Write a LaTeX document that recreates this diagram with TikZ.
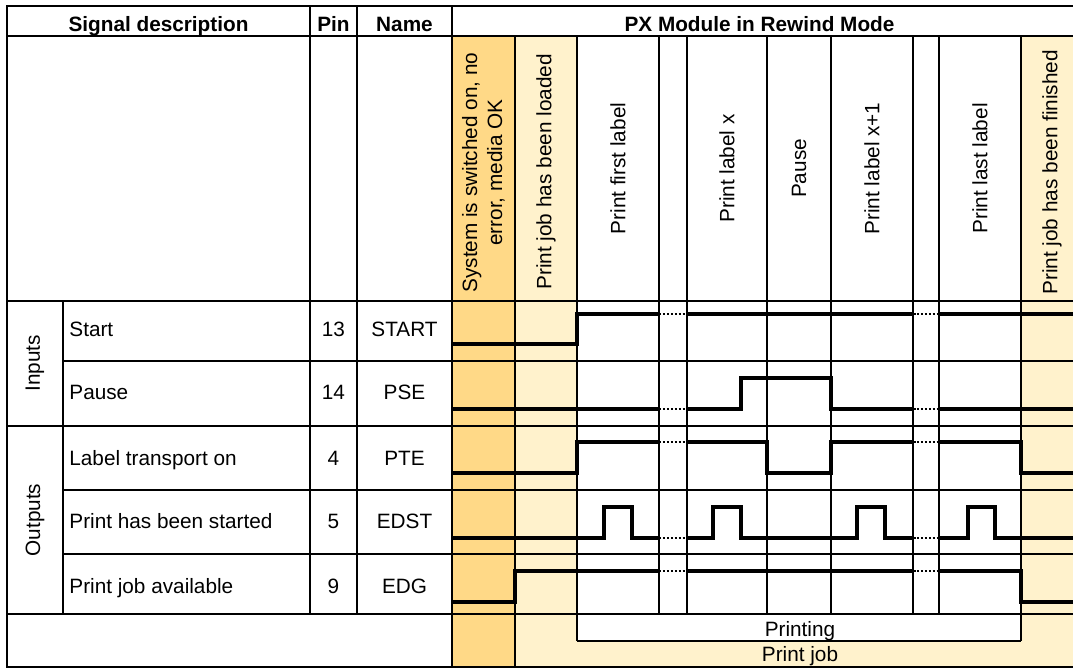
\documentclass[tikz,border=0pt]{standalone}
\usepackage{fontspec}
\setmainfont{Liberation Sans}
\definecolor{Ofill}{RGB}{255,217,135}
\definecolor{Jfill}{RGB}{255,242,204}

\begin{document}
\begin{tikzpicture}[x=1in,y=1in,
  frame/.style={line width=0.9pt},
  thinline/.style={line width=0.55pt},
  sig/.style={line width=1.75pt,line join=miter},
  gapline/.style={line width=1.3pt,dash pattern=on 1.2pt off 0.7pt},
  head/.style={font=\bfseries,inner sep=0pt,anchor=base},
  cell/.style={inner sep=0pt,anchor=base},
  vlabel/.style={rotate=90,inner sep=0pt}]
\path[use as bounding box] (0,0) rectangle (7.1533,4.4533);
% coloured columns
\fill[Ofill] (3.0133,4.2133) rectangle (3.4333,0.0067);
\fill[Jfill] (3.4333,4.2133) rectangle (3.8467,0.0067);
\fill[Jfill] (6.8067,4.2133) rectangle (7.1533,0.0067);
\fill[Jfill] (3.8467,0.1800) rectangle (6.8067,0.0067);
% thin grid
\draw[thinline] (0.4200,2.0467) -- (7.1533,2.0467);
\draw[thinline] (0.4200,1.1867) -- (7.1533,1.1867);
\draw[thinline] (0.4200,0.7600) -- (7.1533,0.7600);
\draw[thinline] (4.3933,4.2133) -- (4.3933,0.3600);
\draw[thinline] (4.5800,4.2133) -- (4.5800,0.3600);
\draw[thinline] (5.1133,4.2133) -- (5.1133,0.3600);
\draw[thinline] (5.5400,4.2133) -- (5.5400,0.3600);
\draw[thinline] (6.0867,4.2133) -- (6.0867,0.3600);
\draw[thinline] (6.2600,4.2133) -- (6.2600,0.3600);
\draw[thinline] (3.8467,0.1800) -- (6.8067,0.1800);
% frame
\draw[frame] (7.1533,4.4133) -- (0.0467,4.4133) -- (0.0467,0.0067) -- (7.1533,0.0067);
\draw[frame] (0.0467,4.2133) -- (7.1533,4.2133);
\draw[frame] (0.0467,2.4467) -- (7.1533,2.4467);
\draw[frame] (0.0467,1.6133) -- (7.1533,1.6133);
\draw[frame] (0.0467,0.3600) -- (7.1533,0.3600);
\draw[frame] (0.4200,2.4467) -- (0.4200,0.3600);
\draw[frame] (2.0667,4.4133) -- (2.0667,0.3600);
\draw[frame] (2.3800,4.4133) -- (2.3800,0.3600);
\draw[frame] (3.0133,4.4133) -- (3.0133,0.0067);
\draw[frame] (3.4333,4.2133) -- (3.4333,0.0067);
\draw[frame] (3.8467,4.2133) -- (3.8467,0.1800);
\draw[frame] (6.8067,4.2133) -- (6.8067,0.1800);
% header
\node[head] (hdesc) at (1.0567,4.2433) {Signal description};
\node[head] (hpin) at (2.2233,4.2433) {Pin};
\node[head] (hname) at (2.6967,4.2433) {Name};
\node[head] (hmode) at (5.0633,4.2433) {PX Module in Rewind Mode};
% phases
\node[vlabel,anchor=west,align=center] (lon) at (3.2233,2.5000) {System is switched on, no\\error, media OK};
\node[vlabel,anchor=west] (lload) at (3.6400,2.5200) {Print job has been loaded};
\node[vlabel] (lfirst) at (4.1200,3.3300) {Print first label};
\node[vlabel] (lx) at (4.8467,3.3300) {Print label x};
\node[vlabel] (lpause) at (5.3267,3.3300) {Pause};
\node[vlabel] (lxone) at (5.8133,3.3300) {Print label x+1};
\node[vlabel] (llast) at (6.5333,3.3300) {Print last label};
\node[vlabel,anchor=west] (lfin) at (7.0133,2.4867) {Print job has been finished};
% signal names
\node[vlabel] (ginp) at (0.2333,2.0300) {Inputs};
\node[vlabel] (gout) at (0.2333,0.9867) {Outputs};
\node[cell,anchor=base west] (dstart) at (0.4600,2.2067) {Start};
\node[cell,anchor=base west] (dpse) at (0.4600,1.7867) {Pause};
\node[cell,anchor=base west] (dpte) at (0.4600,1.3533) {Label transport on};
\node[cell,anchor=base west] (dedst) at (0.4600,0.9267) {Print has been started};
\node[cell,anchor=base west] (dedg) at (0.4600,0.5000) {Print job available};
\node[cell] (pstart) at (2.2233,2.2067) {13};
\node[cell] (ppse) at (2.2233,1.7867) {14};
\node[cell] (ppte) at (2.2233,1.3533) {4};
\node[cell] (pedst) at (2.2233,0.9267) {5};
\node[cell] (pedg) at (2.2233,0.5000) {9};
\node[cell] (nstart) at (2.6967,2.2067) {START};
\node[cell] (npse) at (2.6967,1.7867) {PSE};
\node[cell] (npte) at (2.6967,1.3533) {PTE};
\node[cell] (nedst) at (2.6967,0.9267) {EDST};
\node[cell] (nedg) at (2.6967,0.5000) {EDG};
% START
\draw[sig] (3.0133,2.1600) -- (3.8467,2.1600) -- (3.8467,2.3600) -- (4.3933,2.3600);
\draw[gapline] (4.3933,2.3600) -- (4.5800,2.3600);
\draw[sig] (4.5800,2.3600) -- (6.0867,2.3600);
\draw[gapline] (6.0867,2.3600) -- (6.2600,2.3600);
\draw[sig] (6.2600,2.3600) -- (7.1533,2.3600);
% PSE
\draw[sig] (3.0133,1.7267) -- (4.3933,1.7267);
\draw[gapline] (4.3933,1.7267) -- (4.5800,1.7267);
\draw[sig] (4.5800,1.7267) -- (4.9400,1.7267) -- (4.9400,1.9333) -- (5.5400,1.9333) -- (5.5400,1.7267) -- (6.0867,1.7267);
\draw[gapline] (6.0867,1.7267) -- (6.2600,1.7267);
\draw[sig] (6.2600,1.7267) -- (7.1533,1.7267);
% PTE
\draw[sig] (3.0133,1.3000) -- (3.8467,1.3000) -- (3.8467,1.5067) -- (4.3933,1.5067);
\draw[gapline] (4.3933,1.5067) -- (4.5800,1.5067);
\draw[sig] (4.5800,1.5067) -- (5.1133,1.5067) -- (5.1133,1.3000) -- (5.5400,1.3000) -- (5.5400,1.5067) -- (6.0867,1.5067);
\draw[gapline] (6.0867,1.5067) -- (6.2600,1.5067);
\draw[sig] (6.2600,1.5067) -- (6.8067,1.5067) -- (6.8067,1.3000) -- (7.1533,1.3000);
% EDST
\draw[sig] (3.0133,0.8667) -- (4.0267,0.8667) -- (4.0267,1.0733) -- (4.2133,1.0733) -- (4.2133,0.8667) -- (4.3933,0.8667);
\draw[gapline] (4.3933,0.8667) -- (4.5800,0.8667);
\draw[sig] (4.5800,0.8667) -- (4.7533,0.8667) -- (4.7533,1.0733) -- (4.9400,1.0733) -- (4.9400,0.8667) -- (5.7133,0.8667) -- (5.7133,1.0733) -- (5.9000,1.0733) -- (5.9000,0.8667) -- (6.0867,0.8667);
\draw[gapline] (6.0867,0.8667) -- (6.2600,0.8667);
\draw[sig] (6.2600,0.8667) -- (6.4533,0.8667) -- (6.4533,1.0733) -- (6.6333,1.0733) -- (6.6333,0.8667) -- (7.1533,0.8667);
% EDG
\draw[sig] (3.0133,0.4400) -- (3.4333,0.4400) -- (3.4333,0.6467) -- (4.3933,0.6467);
\draw[gapline] (4.3933,0.6467) -- (4.5800,0.6467);
\draw[sig] (4.5800,0.6467) -- (6.0867,0.6467);
\draw[gapline] (6.0867,0.6467) -- (6.2600,0.6467);
\draw[sig] (6.2600,0.6467) -- (6.8067,0.6467) -- (6.8067,0.4400) -- (7.1533,0.4400);
% bottom
\node[cell] (tprinting) at (5.3333,0.2133) {Printing};
\node[cell] (tjob) at (5.3333,0.0433) {Print job};
\end{tikzpicture}
\end{document}
